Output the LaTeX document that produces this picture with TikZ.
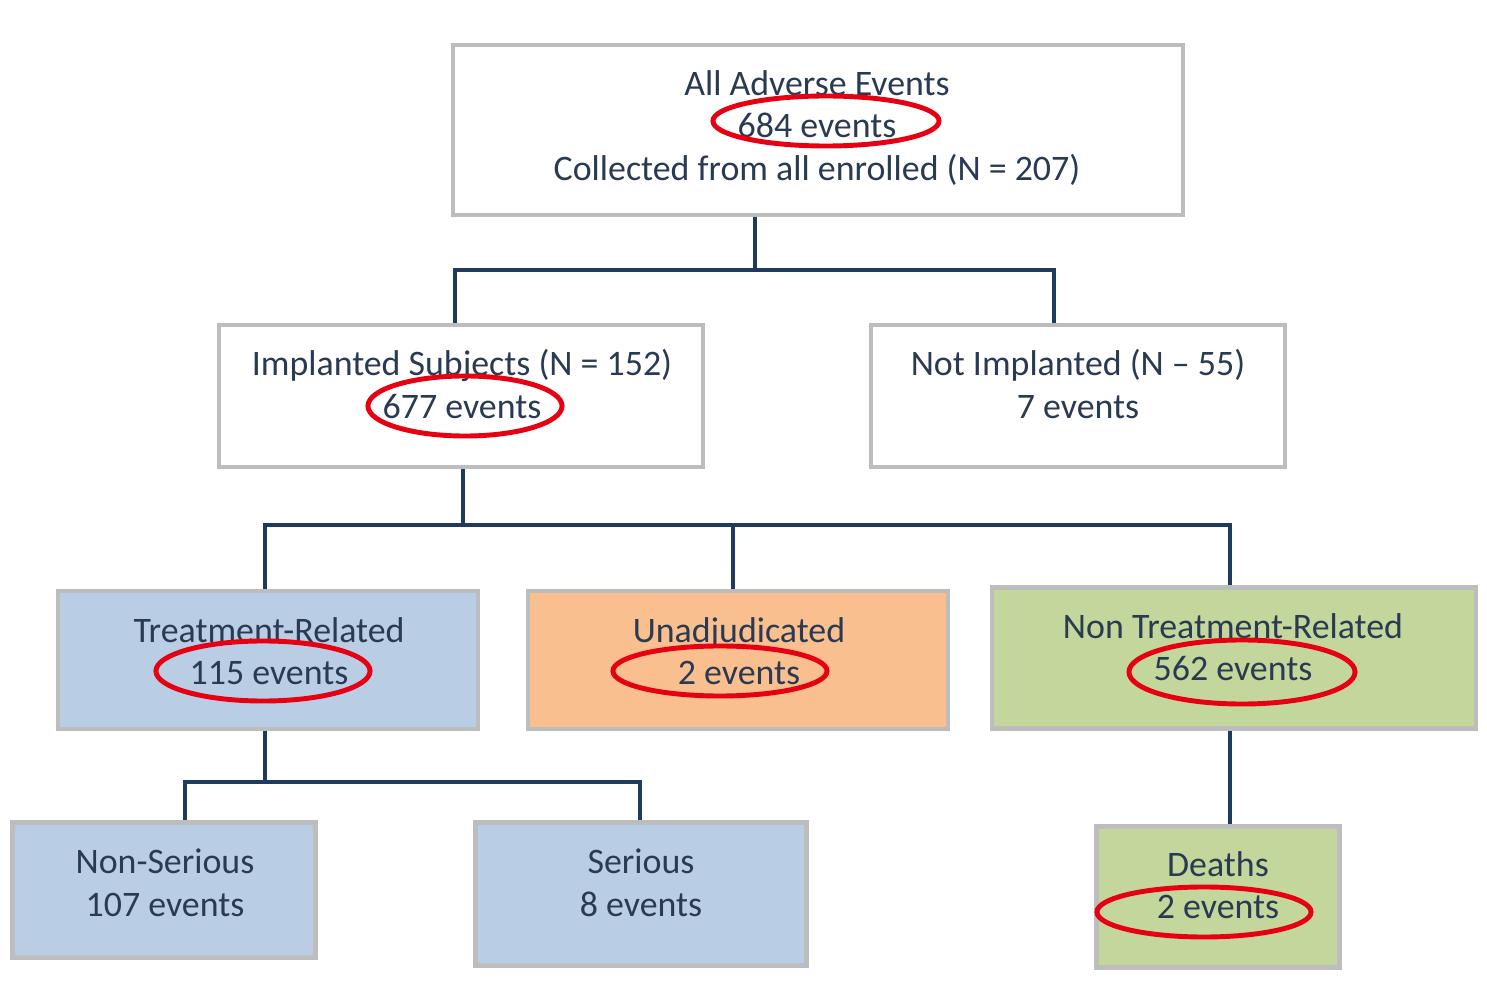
\documentclass[tikz,border=0pt]{standalone}
\usepackage{fontspec}
\setmainfont{Carlito}
\definecolor{boxgray}{HTML}{BDBDBD}
\definecolor{trblue}{HTML}{B9CDE5}
\definecolor{unorange}{HTML}{F9BF8F}
\definecolor{ntgreen}{HTML}{C3D69B}
\definecolor{linknavy}{HTML}{1F3A5F}
\definecolor{textnavy}{HTML}{2A3A52}
\definecolor{ringred}{HTML}{E60012}
\begin{document}
\begin{tikzpicture}[x=0.01cm,y=-0.01cm,
    box/.style={draw=boxgray,line width=1.2pt,rectangle,inner sep=0pt},
    lbl/.style={align=center,text=textnavy,inner sep=0pt,
        font=\fontsize{10.2}{12.1}\selectfont},
    conn/.style={draw=linknavy,line width=1pt},
    ring/.style={draw=ringred,line width=1.4pt}]
    \useasboundingbox[fill=white] (0,0) rectangle (1487,985);
    % boxes
    \node[box,minimum width=7.3cm,minimum height=1.7cm] (top) at (818,130) {};
    \node[box,minimum width=4.83cm,minimum height=1.42cm] (impl) at (461,396) {};
    \node[box,minimum width=4.14cm,minimum height=1.42cm] (notimpl) at (1078,396) {};
    \node[box,fill=trblue,minimum width=4.19cm,minimum height=1.38cm] (treat) at (268,660) {};
    \node[box,fill=unorange,minimum width=4.19cm,minimum height=1.38cm] (unadj) at (738,660) {};
    \node[box,fill=ntgreen,minimum width=4.84cm,minimum height=1.41cm] (nontreat) at (1234,658) {};
    \node[box,fill=trblue,minimum width=3.03cm,minimum height=1.35cm] (nonser) at (164,890) {};
    \node[box,fill=trblue,minimum width=3.31cm,minimum height=1.43cm] (serious) at (641,894) {};
    \node[box,fill=ntgreen,minimum width=2.43cm,minimum height=1.41cm] (deaths) at (1218,897) {};
    % texts
    \node[lbl] (toptxt) at (817,128) {All Adverse Events\\684 events\\Collected from all enrolled (N = 207)};
    \node[lbl] (impltxt) at (462,384) {Implanted Subjects (N = 152)\\677 events};
    \node[lbl] (notimpltxt) at (1078,384) {Not Implanted (N -- 55)\\7 events};
    \node[lbl] (treattxt) at (269,651) {Treatment-Related\\115 events};
    \node[lbl] (unadjtxt) at (739,651) {Unadjudicated\\2 events};
    \node[lbl] (nontreattxt) at (1233,647) {Non Treatment-Related\\562 events};
    \node[lbl] (nonsertxt) at (165,883) {Non-Serious\\107 events};
    \node[lbl] (serioustxt) at (641,883) {Serious\\8 events};
    \node[lbl] (deathstxt) at (1218,885) {Deaths\\2 events};
    % connectors
    \draw[conn] (755,0 |- top.south) -- (755,270) -| (455,0 |- impl.north);
    \draw[conn] (755,270) -| (1054,0 |- notimpl.north);
    \draw[conn] (463,0 |- impl.south) -- (463,525) -| (265,0 |- treat.north);
    \draw[conn] (463,525) -| (1230,0 |- nontreat.north);
    \draw[conn] (733,525) -- (733,0 |- unadj.north);
    \draw[conn] (265,0 |- treat.south) -- (265,782) -| (185,0 |- nonser.north);
    \draw[conn] (265,782) -| (640,0 |- serious.north);
    \draw[conn] (1230,0 |- nontreat.south) -- (1230,0 |- deaths.north);
    % red rings
    \foreach \cx/\cy/\rx/\ry in {826/121/1.13/0.25, 465/406/0.97/0.30,
        263/671/1.07/0.30, 720/671/1.07/0.25, 1242/672/1.13/0.32, 1204/912/1.07/0.25}
        \draw[ring] (\cx,\cy) ellipse [x radius=\rx cm, y radius=\ry cm];
\end{tikzpicture}
\end{document}
